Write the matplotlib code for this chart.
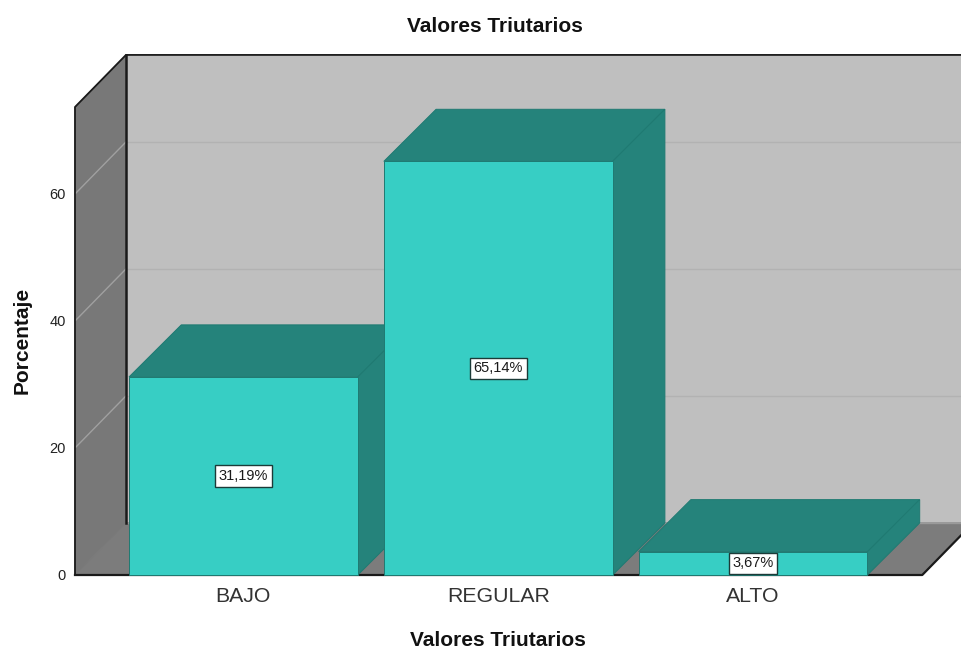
import matplotlib
matplotlib.use("Agg")
import matplotlib.pyplot as plt

categories = ["BAJO", "REGULAR", "ALTO"]
percentages = [31.19, 65.14, 3.67]
value_labels = ["31,19%", "65,14%", "3,67%"]
y_ticks = [0, 20, 40, 60]

FACE = "#37cec4"
SHADE = "#25837b"
EDGE = "#1f7a72"
BACK_WALL = "#bfbfbf"
SIDE_WALL = "#787878"
FLOOR = "#7c7c7c"

# oblique offset of the box and of the bars, in axis units
WALL_DEPTH_X = 0.2
BAR_DEPTH_X = 0.205
DEPTH_Y = 8.2
BAR_WIDTH = 0.898
X_LOW, X_HIGH = -0.661, 2.82
Y_HIGH = 73.7
X_FLOOR_END = 2.664

plt.rcParams["font.family"] = ["Liberation Sans", "DejaVu Sans"]

fig = plt.figure(figsize=(9.62, 6.5), dpi=100)
ax = fig.add_axes([75 / 962, 75 / 650, 887 / 962, 468 / 650])
ax.set_xlim(X_LOW, X_HIGH)
ax.set_ylim(0, Y_HIGH)
for spine in ax.spines.values():
    spine.set_visible(False)
ax.patch.set_visible(False)

back_left = X_LOW + WALL_DEPTH_X
back_right = X_FLOOR_END + WALL_DEPTH_X
past_edge = X_HIGH + 0.05

# back wall, floor and left wall
ax.fill([back_left, past_edge, past_edge, back_left],
        [DEPTH_Y, DEPTH_Y, Y_HIGH + DEPTH_Y, Y_HIGH + DEPTH_Y],
        color=BACK_WALL, lw=0, clip_on=False, zorder=1)
ax.fill([X_LOW, X_FLOOR_END, back_right, back_left],
        [0, 0, DEPTH_Y, DEPTH_Y],
        facecolor=FLOOR, edgecolor=FLOOR, lw=0.6, clip_on=False, zorder=1)
ax.fill([X_LOW, back_left, back_left, X_LOW],
        [0, DEPTH_Y, Y_HIGH + DEPTH_Y, Y_HIGH],
        facecolor=SIDE_WALL, edgecolor=SIDE_WALL, lw=0.6, clip_on=False, zorder=1)

# grid lines run along the left wall and across the back wall
for tick in y_ticks[1:]:
    ax.plot([X_LOW, back_left], [tick, tick + DEPTH_Y], color="#a0a0a0",
            lw=1, clip_on=False, zorder=2)
    ax.plot([back_left, past_edge], [tick + DEPTH_Y, tick + DEPTH_Y],
            color="#b2b2b2", lw=1, clip_on=False, zorder=2)

# wall outlines
ax.plot([X_LOW, X_LOW, back_left, past_edge],
        [0, Y_HIGH, Y_HIGH + DEPTH_Y, Y_HIGH + DEPTH_Y],
        color="#1a1a1a", lw=1.3, clip_on=False, zorder=3)
ax.plot([back_left, back_left], [DEPTH_Y, Y_HIGH + DEPTH_Y],
        color="#1a1a1a", lw=1.8, clip_on=False, zorder=3)
ax.plot([X_LOW, X_FLOOR_END, back_right], [0, 0, DEPTH_Y],
        color="#1a1a1a", lw=1.6, clip_on=False, zorder=3)
ax.plot([back_left, past_edge], [DEPTH_Y, DEPTH_Y],
        color="#9a9a9a", lw=1, clip_on=False, zorder=2)

# bars, left to right so each one overlaps its neighbour's side face
for i, value in enumerate(percentages):
    left = i - BAR_WIDTH / 2
    right = i + BAR_WIDTH / 2
    zorder = 4 + i
    ax.fill([left, right, right + BAR_DEPTH_X, left + BAR_DEPTH_X],
            [value, value, value + DEPTH_Y, value + DEPTH_Y],
            facecolor=SHADE, edgecolor=EDGE, lw=0.7, clip_on=False, zorder=zorder)
    ax.fill([right, right + BAR_DEPTH_X, right + BAR_DEPTH_X, right],
            [0, DEPTH_Y, value + DEPTH_Y, value],
            facecolor=SHADE, edgecolor=EDGE, lw=0.7, clip_on=False, zorder=zorder)
    ax.bar(i, value, width=BAR_WIDTH, color=FACE, edgecolor=EDGE, lw=0.7,
           clip_on=False, zorder=zorder)

for i, value in enumerate(percentages):
    ax.text(i, value / 2, value_labels[i], ha="center", va="center",
            fontsize=10.5, color="#1a1a1a", zorder=10,
            bbox=dict(boxstyle="square,pad=0.25", facecolor="white",
                      edgecolor="#1c3b38", lw=1))

ax.set_xticks(range(len(categories)))
ax.set_xticklabels(categories, fontsize=15.3, color="#333333")
ax.set_yticks(y_ticks)
ax.set_yticklabels([str(t) for t in y_ticks], fontsize=10.5, color="#222222")
ax.tick_params(axis="both", length=0)
ax.tick_params(axis="x", pad=9)
ax.tick_params(axis="y", pad=6.5)

fig.text(494.5 / 962, 1 - 27 / 650, "Valores Triutarios", ha="center", va="center",
         fontsize=15, fontweight="bold", color="#111111")
fig.text(497.5 / 962, 1 - 641 / 650, "Valores Triutarios", ha="center", va="center",
         fontsize=15, fontweight="bold", color="#111111")
fig.text(22 / 962, 1 - 340 / 650, "Porcentaje", rotation=90, ha="center",
         va="center", fontsize=15, fontweight="bold", color="#111111")

fig.savefig("out.png", dpi=100)
